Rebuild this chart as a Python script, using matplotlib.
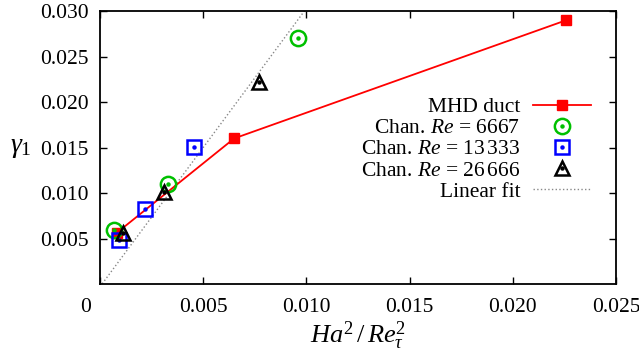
import numpy as np
import matplotlib
matplotlib.use('Agg')
import matplotlib.pyplot as plt
import matplotlib.transforms as mtransforms

plt.rcParams['font.family'] = ['Liberation Serif', 'DejaVu Serif']
plt.rcParams['mathtext.fontset'] = 'custom'
plt.rcParams['mathtext.rm'] = 'Liberation Serif'
plt.rcParams['mathtext.it'] = 'Liberation Serif:italic'
plt.rcParams['mathtext.bf'] = 'Liberation Serif:bold'
plt.rcParams['font.size'] = 15.5

# MHD duct
duct_x = [0.0008, 0.0065, 0.0226]
duct_y = [0.0056, 0.0160, 0.0290]

# Canal Re = 6667
c1_x = [0.0007, 0.0033, 0.0096]
c1_y = [0.0059, 0.0110, 0.0270]

# Canal Re = 13333
c2_x = [0.0009, 0.0022, 0.00455]
c2_y = [0.0048, 0.0082, 0.0151]

# Canal Re = 26666
c3_x = [0.0011, 0.0031, 0.0077]
c3_y = [0.0056, 0.0101, 0.0222]

# Ajust lineal
fit_pendent = 3.06
fit_terme = -0.0003

xticks = [0, 0.005, 0.010, 0.015, 0.020, 0.025]
xticklabels = ['0', '0.005', '0.010', '0.015', '0.020', '0.025']
yticks = [0.005, 0.010, 0.015, 0.020, 0.025, 0.030]
yticklabels = ['0.005', '0.010', '0.015', '0.020', '0.025', '0.030']

fig = plt.figure(figsize=(6.39, 3.56), dpi=100)
ax = fig.add_axes([0.1565, 0.2022, 0.8075, 0.7668])

xf = np.linspace(0, 0.025, 200)
l_duct, = ax.plot(duct_x, duct_y, '-', color='#ff0000', lw=1.3, marker='s', ms=7,
                  mfc='#ff0000', mec='#ff0000', zorder=3)
h1, = ax.plot(c1_x, c1_y, 'o', ms=11, mfc='none', mec='#00c000', mew=1.8, zorder=4)
d1, = ax.plot(c1_x, c1_y, 'o', ms=2.2, color='#00c000', zorder=4)
h2, = ax.plot(c2_x, c2_y, 's', ms=10.5, mfc='none', mec='#0000ff', mew=1.8, zorder=4)
d2, = ax.plot(c2_x, c2_y, 'o', ms=2.2, color='#0000ff', zorder=4)
h3, = ax.plot(c3_x, c3_y, '^', ms=10, mfc='none', mec='black', mew=1.8, zorder=4)
d3, = ax.plot(c3_x, c3_y, 'o', ms=2.2, color='black', zorder=4)
l_fit, = ax.plot(xf, fit_pendent * xf + fit_terme, ':', color='#888888', lw=1.0,
                 zorder=2)

ax.set_xlim(0, 0.025)
ax.set_ylim(0, 0.030)
ax.set_xticks(xticks)
ax.set_xticklabels(xticklabels)
ax.set_yticks(yticks)
ax.set_yticklabels(yticklabels)
ax.tick_params(direction='in', length=5, width=1, top=True, right=True)
ax.tick_params(axis='x', pad=10)
ax.tick_params(axis='y', pad=8)
for s in ax.spines.values():
    s.set_linewidth(1.3)

# el 0 de l'eix x una mica a l'esquerra
lab0 = ax.get_xticklabels()[0]
lab0.set_transform(lab0.get_transform() +
                   mtransforms.ScaledTranslation(-0.14, 0, fig.dpi_scale_trans))

ax.set_xlabel(r'$Ha^2\,/\,Re_\tau^2$', fontsize=19, labelpad=2)
ax.set_ylabel(r'$\gamma_1$', fontsize=20, rotation=0, labelpad=14, va='center')

leg = ax.legend([l_duct, (h1, d1), (h2, d2), (h3, d3), l_fit],
                ['MHD duct', r'Chan. $Re$ = 6667', r'Chan. $Re$ = 13$\,$333',
                 r'Chan. $Re$ = 26$\,$666', 'Linear fit'],
                loc='upper right', bbox_to_anchor=(0.952, 0.685),
                frameon=False, markerfirst=False, handlelength=2.7,
                handletextpad=0.6, labelspacing=0.05, borderpad=0,
                borderaxespad=0)

fig.savefig('out.png', dpi=100)
